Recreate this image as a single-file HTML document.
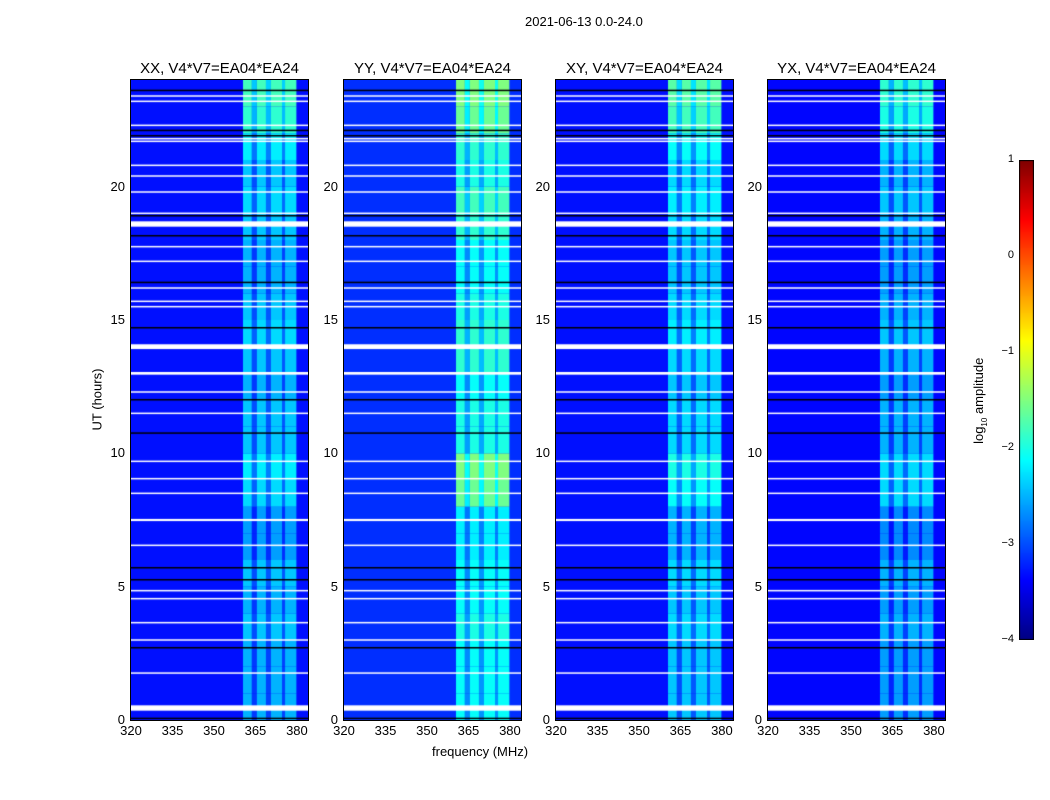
<!DOCTYPE html>
<html><head><meta charset="utf-8">
<style>
body{margin:0;background:#fff;width:1050px;height:800px;overflow:hidden;font-family:"Liberation Sans",sans-serif;}
#root{position:relative;width:1050px;height:800px;}
.t{position:absolute;font-size:13px;color:#000;white-space:nowrap;}
.pt{position:absolute;font-size:15px;white-space:nowrap;}
canvas{position:absolute;}
</style></head>
<body>
<div id="root">
<div class="t" style="left:525px;top:14px;font-size:13px;">2021-06-13 0.0-24.0</div>
<div class="t" style="left:42px;top:392px;transform:rotate(-90deg);transform-origin:center;width:110px;text-align:center;">UT (hours)</div>
<div class="t" style="left:432px;top:744px;">frequency (MHz)</div>
<canvas id="cb" width="15" height="480" style="left:1019px;top:160px;"></canvas>
<div class="t" style="left:920px;top:392px;width:120px;text-align:center;transform:rotate(-90deg);">log<sub style="font-size:8px">10</sub> amplitude</div>
</div>
<script>
// Data
const panelTitles=["XX, V4*V7=EA04*EA24","YY, V4*V7=EA04*EA24","XY, V4*V7=EA04*EA24","YX, V4*V7=EA04*EA24"];
const xTicks=[320,335,350,365,380];
const yTicks=[0,5,10,15,20];
const cbTicks=[-4,-3,-2,-1,0,1];
const bgLevel=-3.3;
// band sub-stripes
const bandStart=[360.5,363.7,365.5,368.8,370.6,374.6,375.7];
const bandEnd=[363.7,365.5,368.8,370.6,374.6,375.7,379.8];
const bandOffset=[0,-0.6,0,-0.55,0,-0.55,0];
// hourly band level per panel (hour 0..23)
const bandXX=[-2.5,-2.5,-2.5,-2.4,-2.5,-2.4,-2.6,-2.6,-2.3,-2.2,-2.4,-2.4,-2.5,-2.4,-2.3,-2.4,-2.5,-2.5,-2.4,-2.3,-2.4,-2.2,-1.9,-1.8];
const bandYY=[-2.1,-2.1,-2.1,-2.0,-2.1,-2.1,-2.2,-2.2,-1.6,-1.5,-2.0,-2.0,-2.1,-1.9,-1.9,-2.0,-2.1,-2.1,-1.9,-1.8,-2.0,-1.9,-1.6,-1.5];
const bandXY=[-2.4,-2.4,-2.4,-2.3,-2.4,-2.3,-2.5,-2.5,-2.1,-2.0,-2.3,-2.3,-2.4,-2.3,-2.2,-2.3,-2.4,-2.4,-2.3,-2.2,-2.3,-2.1,-1.8,-1.7];
const bandYX=[-2.6,-2.6,-2.6,-2.5,-2.6,-2.5,-2.7,-2.7,-2.3,-2.3,-2.5,-2.5,-2.6,-2.5,-2.4,-2.5,-2.6,-2.6,-2.5,-2.4,-2.5,-2.3,-2.0,-1.9];
const bgYYoffset=[0,0.15,0,-0.05];
// gaps (white)
const gapHour=[0.45,1.76,3.0,3.65,4.55,4.85,6.55,7.5,8.5,9.05,9.7,11.5,12.3,13.0,14.0,15.5,15.7,16.2,17.2,17.75,18.6,19.0,19.8,20.4,20.8,21.7,21.8,22.3,23.2,23.4];
const gapWidth=[0.2,0.04,0.04,0.04,0.04,0.04,0.04,0.08,0.04,0.04,0.04,0.04,0.04,0.1,0.18,0.04,0.04,0.04,0.04,0.04,0.2,0.04,0.04,0.04,0.04,0.04,0.04,0.04,0.04,0.04];
// dark lines
const darkHour=[0.05,2.7,5.25,5.7,10.75,12.0,14.7,16.4,18.15,18.9,21.9,22.1,23.6];
</script>
<script>
const root=document.getElementById('root');
const panelsX=[131,344,556,768];
const PW=177,PT=80,PB=720;
const fMin=320,fMax=384;
function xs(f,x0){return x0+(f-fMin)/(fMax-fMin)*PW;}
function ys(h){return PB-h/24*(PB-PT);}
function jet(v){let t=(v+4)/5;t=Math.max(0,Math.min(1,t));
 const c=x=>Math.round(255*Math.max(0,Math.min(1,x)));
 return `rgb(${c(1.5-Math.abs(4*t-3))},${c(1.5-Math.abs(4*t-2))},${c(1.5-Math.abs(4*t-1))})`;}
const bandSets=[bandXX,bandYY,bandXY,bandYX];
panelsX.forEach((x0,p)=>{
 const cv=document.createElement('canvas');
 cv.width=PW;cv.height=PB-PT;cv.style.left=x0+'px';cv.style.top=PT+'px';
 
 
 root.appendChild(cv);
 const g=cv.getContext('2d');
 g.fillStyle=jet(bgLevel+bgYYoffset[p]);g.fillRect(0,0,PW,PB-PT);
 const bands=bandSets[p];
 for(let h=0;h<24;h++){
  for(let i=0;i<bandStart.length;i++){
   g.fillStyle=jet(bands[h]+bandOffset[i]);
   const xa=xs(bandStart[i],0),xb=xs(bandEnd[i],0);
   g.fillRect(xa,ys(h+1)-PT,xb-xa,ys(h)-ys(h+1));
  }
 }
 g.fillStyle='#000';
 darkHour.forEach(h=>{g.fillRect(0,ys(h)-PT-1,PW,1.5);});
 g.fillStyle='#fff';
 gapHour.forEach((h,i)=>{const w=Math.max(1.5,gapWidth[i]/24*(PB-PT));g.fillRect(0,ys(h)-PT-w/2,PW,w);});
 const fr=document.createElement('div');
 fr.style.cssText=`position:absolute;left:${x0-1}px;top:${PT-1}px;width:${PW}px;height:${PB-PT}px;border:1px solid #000;`;
 
 
 root.appendChild(fr);
 const tt=document.createElement('div');tt.className='pt';tt.textContent=panelTitles[p];
 tt.style.left=(x0+PW/2-90)+'px';tt.style.top='60px';tt.style.width='180px';tt.style.textAlign='center';
 
 
 root.appendChild(tt);
 xTicks.forEach(f=>{const l=document.createElement('div');l.className='t';l.textContent=f;
  l.style.left=(xs(f,x0)-12)+'px';l.style.top='723px';l.style.width='24px';l.style.textAlign='center';
  
  
  root.appendChild(l);});
 yTicks.forEach(h=>{const l=document.createElement('div');l.className='t';l.textContent=h;
  l.style.left=(x0-34)+'px';l.style.top=(ys(h)-8)+'px';l.style.width='28px';l.style.textAlign='right';
  
  
  root.appendChild(l);});
});
const cb=document.getElementById('cb').getContext('2d');
for(let y=0;y<480;y++){cb.fillStyle=jet(1-5*y/480);cb.fillRect(0,y,15,1);}
cb.strokeStyle='#000';cb.strokeRect(0.5,0.5,14,479);
cbTicks.forEach(v=>{const y=160+(1-v)/5*480;
 const l=document.createElement('div');l.className='t';l.style.fontSize='11px';
 l.textContent=v<0?'\u2212'+(-v):String(v);
 l.style.left='990px';l.style.top=(y-7)+'px';l.style.width='24px';l.style.textAlign='right';
 
 
 root.appendChild(l);});
</script>
</body></html>
